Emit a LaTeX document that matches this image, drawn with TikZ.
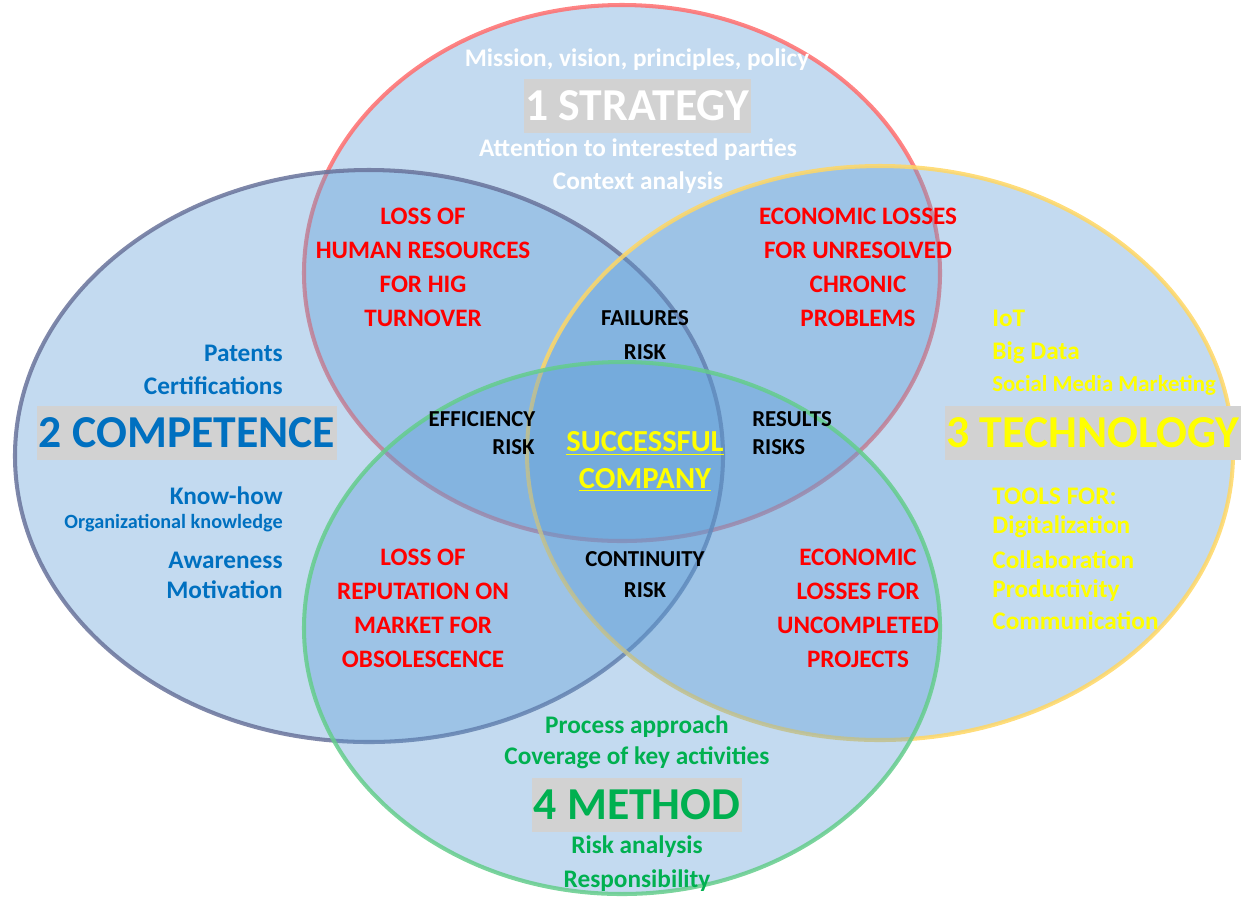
\documentclass[tikz,border=0pt]{standalone}
\usepackage{fontspec}
\setmainfont{Carlito}
\usepackage{xcolor}
\definecolor{bluefill}{RGB}{91,155,213}
\definecolor{stratline}{RGB}{255,110,110}
\definecolor{compline}{RGB}{105,115,155}
\definecolor{techline}{RGB}{255,215,100}
\definecolor{methline}{RGB}{100,205,140}
\definecolor{compblue}{RGB}{0,112,192}
\definecolor{methgreen}{RGB}{0,176,80}
\definecolor{techyellow}{RGB}{255,255,0}
\definecolor{lossred}{RGB}{255,0,0}
\definecolor{titlegray}{RGB}{210,210,210}

\begin{document}
\begin{tikzpicture}[x=0.02cm, y=-0.02cm,
    area/.style={fill=bluefill, fill opacity=0.37, line width=2.3pt, draw opacity=0.85},
    title/.style={fill=titlegray, inner xsep=1pt, inner ysep=0pt, minimum height=31pt, font=\fontsize{26}{29}\selectfont\bfseries},
    item/.style={inner sep=0pt, font=\fontsize{14.4}{17}\selectfont\bfseries},
    small/.style={inner sep=0pt, font=\fontsize{11.5}{14}\selectfont\bfseries},
    loss/.style={inner sep=0pt, align=center, text=lossred, font=\fontsize{14.3}{19.3}\selectfont\bfseries},
    risk/.style={inner sep=0pt, font=\fontsize{13}{15}\selectfont\bfseries},
    centre/.style={inner sep=0pt, text=techyellow, font=\fontsize{17.4}{20}\selectfont\bfseries}
]
    \useasboundingbox (0,0) rectangle (1243,897);

    % the four areas
    \draw[area, draw=stratline] (622,273) ellipse [x radius=318, y radius=268];
    \draw[area, draw=compline] (369,456) ellipse [x radius=354, y radius=286];
    \draw[area, draw=techline] (880,453) ellipse [x radius=353, y radius=287];
    \draw[area, draw=methline] (622,628) ellipse [x radius=318, y radius=266];

    % strategy
    \node[item, text=white] (mission) at (637,60) {Mission, vision, principles, policy};
    \node[title, text=white] (strategy) at (637,106) {1 STRATEGY};
    \node[item, text=white] (attention) at (638,150) {Attention to interested parties};
    \node[item, text=white] (context) at (638,183) {Context analysis};

    % competence
    \node[item, text=compblue, anchor=east] (patents) at (283,353) {Patents};
    \node[item, text=compblue, anchor=east] (certif) at (283,386) {Certifications};
    \node[title, text=compblue] (competence) at (187,433) {2 COMPETENCE};
    \node[item, text=compblue, anchor=east] (knowhow) at (283,496) {Know-how};
    \node[small, text=compblue, anchor=east] (orgknow) at (283,523) {Organizational knowledge};
    \node[item, text=compblue, anchor=east] (awareness) at (283,560) {Awareness};
    \node[item, text=compblue, anchor=east] (motivation) at (283,590) {Motivation};

    % technology
    \node[item, text=techyellow, anchor=west] (iot) at (992,318) {IoT};
    \node[item, text=techyellow, anchor=west] (bigdata) at (992,353) {Big Data};
    \node[item, text=techyellow, anchor=west, font=\fontsize{13}{15}\selectfont\bfseries] (social) at (992,385) {Social Media Marketing};
    \node[title, text=techyellow] (technology) at (1093,433) {3 TECHNOLOGY};
    \node[item, text=techyellow, anchor=west] (tools) at (992,496) {TOOLS FOR:};
    \node[item, text=techyellow, anchor=west] (digital) at (992,527) {Digitalization};
    \node[item, text=techyellow, anchor=west] (collab) at (992,560) {Collaboration};
    \node[item, text=techyellow, anchor=west] (product) at (992,591) {Productivity};
    \node[item, text=techyellow, anchor=west] (communic) at (992,621) {Communication};

    % method
    \node[item, text=methgreen] (process) at (637,727) {Process approach};
    \node[item, text=methgreen] (coverage) at (637,758) {Coverage of key activities};
    \node[title, text=methgreen] (method) at (637,805) {4 METHOD};
    \node[item, text=methgreen] (riskan) at (637,847) {Risk analysis};
    \node[item, text=methgreen] (respons) at (637,881) {Responsibility};

    % pairwise losses
    \node[loss] (humanloss) at (423,267) {LOSS OF\\HUMAN RESOURCES\\FOR HIG\\TURNOVER};
    \node[loss] (chronicloss) at (858,267) {ECONOMIC LOSSES\\FOR UNRESOLVED\\CHRONIC\\PROBLEMS};
    \node[loss] (reputloss) at (423,608) {LOSS OF\\REPUTATION ON\\MARKET FOR\\OBSOLESCENCE};
    \node[loss] (projectloss) at (858,608) {ECONOMIC\\LOSSES FOR\\UNCOMPLETED\\PROJECTS};

    % risks
    \node[risk] (failures) at (645,318) {FAILURES};
    \node[risk] (failrisk) at (645,352) {RISK};
    \node[risk] (efficiency) at (482,419) {EFFICIENCY};
    \node[risk, anchor=east] (effrisk) at (535,447) {RISK};
    \node[risk, anchor=west] (results) at (752,419) {RESULTS};
    \node[risk, anchor=west] (resrisk) at (752,447) {RISKS};
    \node[risk] (continuity) at (645,559) {CONTINUITY};
    \node[risk] (contrisk) at (645,590) {RISK};

    % centre
    \node[centre] (successful) at (645,443) {\underline{SUCCESSFUL}};
    \node[centre] (company) at (645,480) {\underline{COMPANY}};
\end{tikzpicture}
\end{document}
